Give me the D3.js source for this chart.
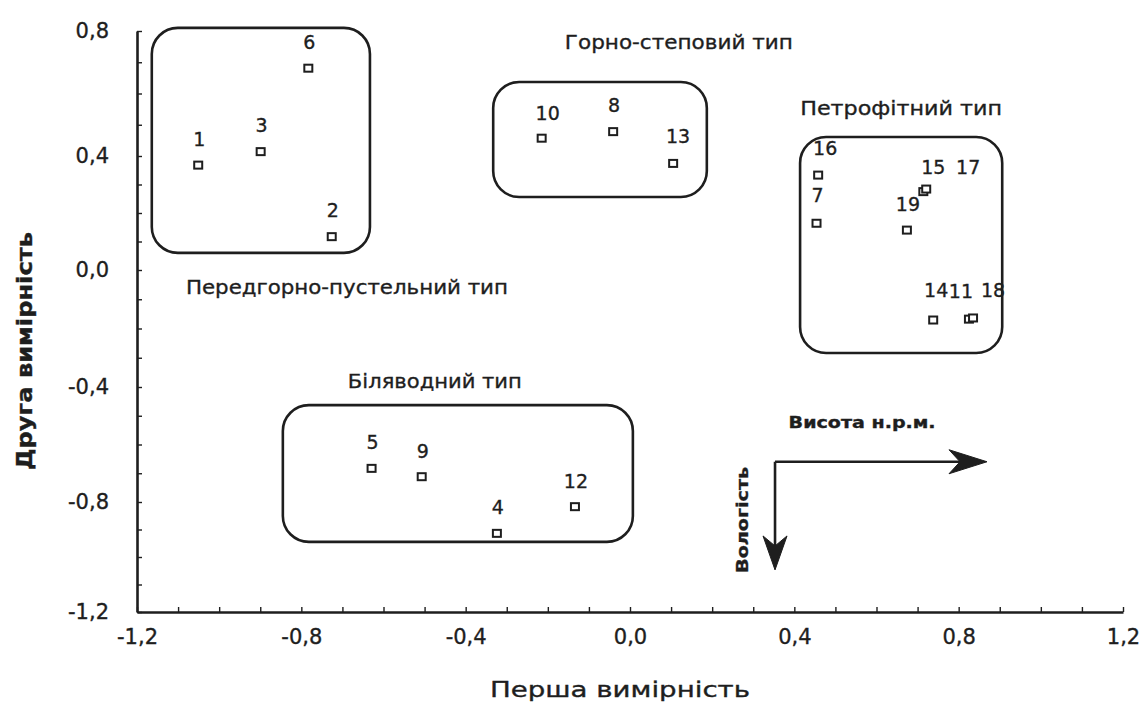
<!DOCTYPE html>
<html><head><meta charset="utf-8">
<script src="https://cdn.jsdelivr.net/npm/d3@7"></script>
<style>
body{margin:0;background:#fff}
svg text{font-family:"DejaVu Sans",Arial,sans-serif;fill:#1e1e1e;stroke:#1e1e1e;stroke-width:0.35px}
</style>
</head><body>
<svg id="chart" width="1143" height="706"></svg>
<script>
// ---- data ----
const pointIds = ["1","2","3","6","10","8","13","16","7","15","17","19","14","11","18","5","9","4","12"];
const dim1 =     [-1.051,-0.726,-0.899,-0.783,-0.215,-0.041,0.105,0.458,0.454,0.714,0.721,0.674,0.738,0.825,0.835,-0.629,-0.507,-0.324,-0.134];
const dim2 =     [0.368,0.117,0.414,0.681,0.457,0.478,0.374,0.333,0.164,0.275,0.284,0.140,-0.171,-0.168,-0.164,-0.683,-0.712,-0.914,-0.817];

const groupNames = ["Передгорно-пустельний тип","Горно-степовий тип","Петрофітний тип","Біляводний тип"];
// group outline bounds in data units [x0, x1, yTop, yBottom]
const groupX0 = [-1.164,-0.333,0.414,-0.845];
const groupX1 = [-0.633,0.187,0.906,0.007];
const groupYTop = [0.81,0.637,0.461,-0.463];
const groupYBot = [0.06,0.256,-0.284,-0.945];
// group title anchor (data units)
const groupLabelX = [-0.689,0.119,0.660,-0.475];
const groupLabelY = [-0.058,0.765,0.554,-0.379];

const xTickValues = [-1.2,-0.8,-0.4,0,0.4,0.8,1.2];
const xTickLabels = ["-1,2","-0,8","-0,4","0,0","0,4","0,8","1,2"];
const yTickValues = [0.8,0.4,0,-0.4,-0.8,-1.2];
const yTickLabels = ["0,8","0,4","0,0","-0,4","-0,8","-1,2"];

const xTitle = "Перша вимірність";
const yTitle = "Друга вимірність";
const arrowXLabel = "Висота н.р.м.";
const arrowYLabel = "Вологість";
// arrow geometry in data units: origin, right tip, bottom tip
const arrowOrigin = [0.353,-0.660];
const arrowRightTipX = 0.869;
const arrowDownTipY = -1.047;

// label offset overrides (layout only, px)
const labelShift = {"15":[10,-24],"17":[42,-22],"11":[-8,-28],"18":[20,-28],"14":[3,-30],"10":[6,-25],"13":[5,-27],"16":[7,-27],"7":[1,-28]};

// ---- scales ----
const svg = d3.select("#chart");
const x = d3.scaleLinear().domain([-1.2,1.2]).range([137,1123]);
const y = d3.scaleLinear().domain([0.8,0.4,0,-0.4,-0.8,-1.2]).range([31,156,270,387,502,612]);

const minorX = d3.range(-12,13).map(i=>i/10);
const minorY = d3.range(-12,9).map(i=>i/10);
const near=(a,b)=>Math.abs(a-b)<1e-9;

// x axis
const gx = svg.append("g").attr("transform",`translate(0,${y(-1.2)})`)
  .call(d3.axisBottom(x).tickValues(minorX).tickSizeInner(-5).tickSizeOuter(0).tickPadding(17)
    .tickFormat(d=>{const i=xTickValues.findIndex(v=>near(v,d));return i>=0?xTickLabels[i]:"";}));
gx.select(".domain").attr("stroke","#1e1e1e").attr("stroke-width",2.6);
gx.selectAll(".tick line").attr("stroke","#1e1e1e").attr("stroke-width",1.4);
gx.selectAll(".tick text").attr("font-size",21).attr("fill","#1e1e1e").style("font-family","'DejaVu Sans',sans-serif");

// y axis
const gy = svg.append("g").attr("transform",`translate(${x(-1.2)},0)`)
  .call(d3.axisLeft(y).tickValues(minorY).tickSizeInner(-5).tickSizeOuter(0).tickPadding(28)
    .tickFormat(d=>{const i=yTickValues.findIndex(v=>near(v,d));return i>=0?yTickLabels[i]:"";}));
gy.select(".domain").attr("stroke","#1e1e1e").attr("stroke-width",2.6);
gy.selectAll(".tick line").attr("stroke","#1e1e1e").attr("stroke-width",1.4);
gy.selectAll(".tick text").attr("font-size",21).attr("fill","#1e1e1e").style("font-family","'DejaVu Sans',sans-serif");

// axis titles
svg.append("text").attr("x",(x(-1.2)+x(1.2))/2 - 10).attr("y",697)
  .attr("text-anchor","middle").attr("font-size",21).attr("textLength",260).attr("lengthAdjust","spacingAndGlyphs")
  .text(xTitle);
svg.append("text").attr("transform",`translate(32,351) rotate(-90)`)
  .attr("text-anchor","middle").attr("font-size",22).attr("font-weight","bold").attr("textLength",238).attr("lengthAdjust","spacingAndGlyphs")
  .text(yTitle);

// group outlines
const groups = groupNames.map((n,i)=>({n,x0:groupX0[i],x1:groupX1[i],yt:groupYTop[i],yb:groupYBot[i],lx:groupLabelX[i],ly:groupLabelY[i]}));
svg.append("g").selectAll("rect").data(groups).join("rect")
  .attr("x",d=>x(d.x0)).attr("y",d=>y(d.yt))
  .attr("width",d=>x(d.x1)-x(d.x0)).attr("height",d=>y(d.yb)-y(d.yt))
  .attr("rx",26).attr("ry",26)
  .attr("fill","none").attr("stroke","#1e1e1e").attr("stroke-width",2.6);

const labelWidths = {"Передгорно-пустельний тип":322,"Горно-степовий тип":228,"Петрофітний тип":202,"Біляводний тип":174};
svg.append("g").selectAll("text").data(groups).join("text")
  .attr("x",d=>x(d.lx)).attr("y",d=>y(d.ly)).attr("dy","0.36em")
  .attr("text-anchor","middle").attr("font-size",20)
  .attr("textLength",d=>labelWidths[d.n]).attr("lengthAdjust","spacingAndGlyphs")
  .text(d=>d.n);

// points
const pts = pointIds.map((id,i)=>({id,a:dim1[i],b:dim2[i]}));
svg.append("g").selectAll("rect").data(pts).join("rect")
  .attr("x",d=>x(d.a)-4).attr("y",d=>y(d.b)-3.5).attr("width",8).attr("height",7)
  .attr("fill","#fff").attr("stroke","#1e1e1e").attr("stroke-width",2);
svg.append("g").selectAll("text").data(pts).join("text")
  .attr("x",d=>x(d.a)+(labelShift[d.id]?labelShift[d.id][0]:1))
  .attr("y",d=>y(d.b)+(labelShift[d.id]?labelShift[d.id][1]:-26))
  .attr("dy","0.36em").attr("text-anchor","middle").attr("font-size",19)
  .text(d=>d.id);

// direction arrows
const ox=x(arrowOrigin[0]), oy=y(arrowOrigin[1]), rx=x(arrowRightTipX), by=y(arrowDownTipY);
const ag = svg.append("g").attr("stroke","#1e1e1e").attr("fill","#1e1e1e");
ag.append("line").attr("x1",ox).attr("y1",oy).attr("x2",rx-20).attr("y2",oy).attr("stroke-width",2.6);
ag.append("line").attr("x1",ox).attr("y1",oy).attr("x2",ox).attr("y2",by-20).attr("stroke-width",2.6);
ag.append("path").attr("stroke-width",1)
  .attr("d",`M${rx},${oy} L${rx-38},${oy-12} L${rx-27},${oy} L${rx-38},${oy+12} Z`);
ag.append("path").attr("stroke-width",1)
  .attr("d",`M${ox},${by} L${ox-12},${by-34} L${ox},${by-24} L${ox+12},${by-34} Z`);

svg.append("text").attr("x",x(0.565)).attr("y",y(-0.525)).attr("dy","0.36em")
  .attr("text-anchor","middle").attr("font-size",15).attr("font-weight","bold").attr("textLength",147).attr("lengthAdjust","spacingAndGlyphs")
  .text(arrowXLabel);
svg.append("text").attr("transform",`translate(${x(0.273)},${y(-0.865)}) rotate(-90)`).attr("dy","0.36em")
  .attr("text-anchor","middle").attr("font-size",15).attr("font-weight","bold").attr("textLength",106).attr("lengthAdjust","spacingAndGlyphs")
  .text(arrowYLabel);
</script>
</body></html>
